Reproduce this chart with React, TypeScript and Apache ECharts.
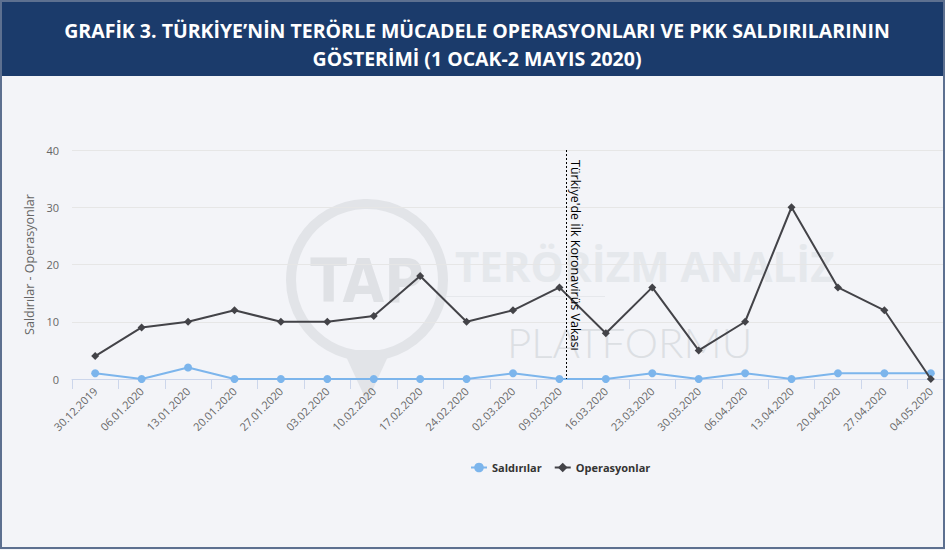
import React, { useEffect, useRef } from "react";
import * as echarts from "echarts";

const titleText = "GRAFİK 3. TÜRKİYE’NİN TERÖRLE MÜCADELE OPERASYONLARI VE PKK SALDIRILARININ\nGÖSTERİMİ (1 OCAK-2 MAYIS 2020)";
const yAxisName = "Saldırılar - Operasyonlar";
const categories = [
  "30.12.2019", "06.01.2020", "13.01.2020", "20.01.2020", "27.01.2020",
  "03.02.2020", "10.02.2020", "17.02.2020", "24.02.2020", "02.03.2020",
  "09.03.2020", "16.03.2020", "23.03.2020", "30.03.2020", "06.04.2020",
  "13.04.2020", "20.04.2020", "27.04.2020", "04.05.2020",
];
const saldirilar = [1, 0, 2, 0, 0, 0, 0, 0, 0, 1, 0, 0, 1, 0, 1, 0, 1, 1, 1];
const operasyonlar = [4, 9, 10, 12, 10, 10, 11, 18, 10, 12, 16, 8, 16, 5, 10, 30, 16, 12, 0];
const yMin = 0;
const yMax = 40;
const yInterval = 10;
const firstCasePosition = 10.15;
const firstCaseLabel = "Türkiye'de İlk Koronavirüs Vakası";

export default function App() {
  const ref = useRef<HTMLDivElement>(null);
  useEffect(() => {
    document.body.style.margin = "0";
    const chart = echarts.init(ref.current!, null, { renderer: "svg" });
    const font = "'Open Sans', sans-serif";
    chart.setOption({
      animation: false,
      backgroundColor: "#f3f4f8",
      title: {
        text: titleText,
        left: "center",
        top: 11,
        padding: [5, 14, 5, 5],
        textStyle: {
          color: "#ffffff",
          fontSize: 19.5,
          fontWeight: "bold",
          fontFamily: font,
          lineHeight: 28,
        },
      },
      graphic: [
        { type: "circle", z: 0, shape: { cx: 367, cy: 280, r: 76 }, style: { fill: "none", stroke: "#e2e4e8", lineWidth: 10 }, silent: true },
        { type: "polygon", z: 0, shape: { points: [[343, 350], [391, 350], [367, 402]] }, style: { fill: "#e2e4e8" }, silent: true },
        { type: "text", z: 0, x: 367, y: 281, style: { text: "TAP", fill: "#dfe1e5", font: "bold 60px 'Liberation Sans Narrow', 'DejaVu Sans Condensed', sans-serif", align: "center", verticalAlign: "middle" }, silent: true },
        { type: "text", z: 0, x: 455, y: 265, style: { text: "TERÖRİZM ANALİZ", fill: "#e5e8ec", font: "bold 42px 'Open Sans', sans-serif", align: "left", verticalAlign: "middle" }, silent: true },
        { type: "rect", z: 0, shape: { x: 445, y: 296, width: 160, height: 1 }, style: { fill: "#e6e8ec" }, silent: true },
        { type: "text", z: 0, x: 507, y: 342, style: { text: "PLATFORMU", fill: "#dcdfe3", font: "300 42px Lato, 'Open Sans', sans-serif", align: "left", verticalAlign: "middle" }, silent: true },
        { type: "rect", z: 1, shape: { x: 0, y: 0, width: 954, height: 76 }, style: { fill: "#1b3b6b" }, silent: true },
        { type: "rect", z: 1, shape: { x: 1, y: 1, width: 943, height: 547 }, style: { fill: "none", stroke: "#5d7090", lineWidth: 2 }, silent: true },
      ],
      legend: {
        data: ["Saldırılar", "Operasyonlar"],
        left: 465,
        top: 457,
        itemWidth: 16,
        itemHeight: 12,
        itemGap: 12,
        textStyle: { color: "#333333", fontSize: 11, fontWeight: "bold", fontFamily: font },
      },
      grid: { left: 72, right: 0, top: 150, bottom: 171 },
      xAxis: [
        {
          type: "category",
          data: categories,
          boundaryGap: true,
          axisLine: { lineStyle: { color: "#ccd6eb", width: 1 } },
          axisTick: { show: true, length: 10, lineStyle: { color: "#ccd6eb" } },
          axisLabel: { rotate: 45, margin: 10, color: "#666666", fontSize: 11, fontFamily: font, interval: 0 },
          splitLine: { show: false },
        },
        {
          type: "value",
          min: -0.5,
          max: 18.5,
          show: false,
        },
      ],
      yAxis: {
        type: "value",
        min: yMin,
        max: yMax,
        interval: yInterval,
        name: yAxisName,
        nameLocation: "middle",
        nameGap: 30,
        nameTextStyle: { color: "#666666", fontSize: 12.5, fontFamily: font },
        axisLine: { show: false },
        axisTick: { show: false },
        axisLabel: { color: "#666666", fontSize: 11, fontFamily: font, margin: 13 },
        splitLine: { lineStyle: { color: "#e6e6e6", width: 1 } },
      },
      series: [
        {
          name: "Saldırılar",
          type: "line",
          data: saldirilar,
          color: "#7cb5ec",
          symbol: "circle",
          symbolSize: 8,
          lineStyle: { width: 2, color: "#7cb5ec" },
          itemStyle: { color: "#7cb5ec" },
          z: 3,
        },
        {
          name: "Operasyonlar",
          type: "line",
          data: operasyonlar,
          color: "#434348",
          symbol: "diamond",
          symbolSize: 8,
          lineStyle: { width: 2, color: "#434348" },
          itemStyle: { color: "#434348" },
          z: 4,
        },
        {
          name: "marker",
          type: "line",
          xAxisIndex: 1,
          yAxisIndex: 0,
          data: [],
          silent: true,
          markLine: {
            silent: true,
            symbol: ["none", "none"],
            lineStyle: { color: "#000000", width: 1, type: [2, 2] },
            label: {
              show: true,
              formatter: firstCaseLabel,
              position: "insideStartTop",
              distance: [10, 3],
              color: "#000000",
              fontSize: 12.5,
              fontFamily: font,
            },
            data: [[{ coord: [firstCasePosition, yMax] }, { coord: [firstCasePosition, yMin] }]],
          },
        },
      ],
    });
    return () => chart.dispose();
  }, []);
  return (
    <div style={{ position: "absolute", left: 0, top: 0, width: 945, height: 550, overflow: "hidden" }}>
      <div ref={ref} style={{ width: 954, height: 550 }} />
    </div>
  );
}
